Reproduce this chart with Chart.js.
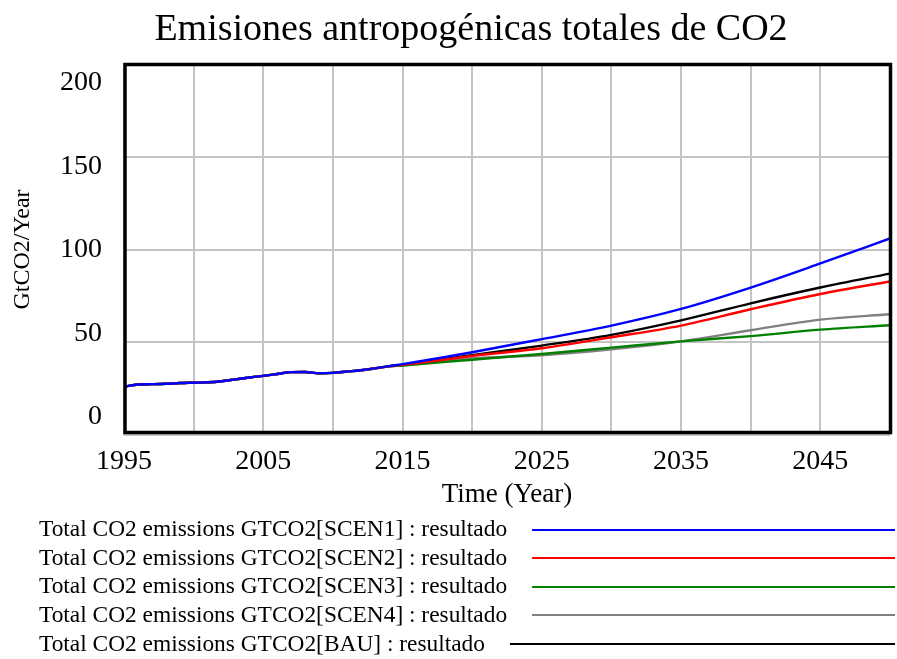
<!DOCTYPE html>
<html>
<head>
<meta charset="utf-8">
<script src="https://cdn.jsdelivr.net/npm/chart.js@4.4.0/dist/chart.umd.min.js"></script>
<style>
  html, body { margin: 0; padding: 0; background: #ffffff; }
  canvas { display: block; }
</style>
</head>
<body>
<canvas id="chart" width="897" height="659"></canvas>
<script>
// Historical total CO2 emissions, common to every scenario (GtCO2/year)
const histYears  = [1995, 1996, 1997, 1998, 1999, 2000, 2001, 2002, 2003, 2004,
                    2005, 2006, 2007, 2008, 2009, 2010, 2011, 2012, 2013];
const histValues = [26.0, 27.2, 27.4, 27.6, 28.0, 28.2, 28.4, 29.0, 30.0, 31.0,
                    31.9, 32.9, 33.9, 34.0, 33.3, 33.5, 34.2, 34.9, 35.9];

// Scenario projections (GtCO2/year)
const projYears = [2014, 2015, 2020, 2025, 2030, 2035, 2040, 2045, 2050];
const scen1 = [37.1, 38.2, 44.6, 51.7, 59.0, 68.0, 79.5, 92.5, 106.0];
const scen2 = [37.0, 37.8, 42.6, 46.8, 52.7, 59.0, 67.8, 76.0, 82.8];
const scen3 = [37.0, 37.5, 40.6, 43.7, 47.1, 50.5, 53.3, 56.8, 59.2];
const scen4 = [37.0, 37.5, 41.3, 43.0, 46.2, 50.5, 56.5, 62.2, 65.1];
const bau   = [37.0, 37.8, 43.0, 48.2, 54.0, 61.8, 71.0, 79.5, 87.0];

const seriesLabels = [
  'Total CO2 emissions GTCO2[SCEN1] : resultado',
  'Total CO2 emissions GTCO2[SCEN2] : resultado',
  'Total CO2 emissions GTCO2[SCEN3] : resultado',
  'Total CO2 emissions GTCO2[SCEN4] : resultado',
  'Total CO2 emissions GTCO2[BAU] : resultado'
];
const seriesColors = ['#0000ff', '#ff0000', '#008000', '#808080', '#000000'];

const xTickLabels = ['1995', '2005', '2015', '2025', '2035', '2045'];
const yTickLabels = ['0', '50', '100', '150', '200'];
const yTickValues = yTickLabels.map(Number);

const chartTitle = 'Emisiones antropogénicas totales de CO2';
const xTitle = 'Time (Year)';
const yTitle = 'GtCO2/Year';

const scenarioValues = [scen1, scen2, scen3, scen4, bau];

const datasets = seriesLabels.map((label, i) => ({
  label: label,
  borderColor: seriesColors[i],
  backgroundColor: seriesColors[i],
  borderWidth: 2.4,
  pointRadius: 0,
  fill: false,
  cubicInterpolationMode: 'monotone',
  data: histYears.map((yr, k) => ({ x: yr, y: histValues[k] }))
    .concat(projYears.map((yr, k) => ({ x: yr, y: scenarioValues[i][k] })))
}));

const FONT = "'Liberation Serif', 'Times New Roman', serif";
Chart.defaults.font.family = FONT;
Chart.defaults.color = '#000000';

// Thick black frame around the plotting area
const framePlugin = {
  id: 'frame',
  afterDatasetsDraw(chart) {
    const { ctx, chartArea: a } = chart;
    ctx.save();
    ctx.strokeStyle = '#000000';
    ctx.lineWidth = 3.5;
    ctx.lineCap = 'square';
    ctx.beginPath();
    ctx.moveTo(a.left + 1, a.top + 0.5);
    ctx.lineTo(a.right + 0.5, a.top + 0.5);
    ctx.lineTo(a.right + 0.5, a.bottom - 2.5);
    ctx.lineTo(a.left + 1, a.bottom - 2.5);
    ctx.closePath();
    ctx.stroke();
    ctx.restore();
  }
};

// Chart title and the line legend below the axis
const textPlugin = {
  id: 'texts',
  afterDraw(chart) {
    const { ctx } = chart;
    ctx.save();
    ctx.fillStyle = '#000000';
    ctx.font = '38px ' + FONT;
    ctx.textAlign = 'center';
    ctx.textBaseline = 'alphabetic';
    ctx.fillText(chartTitle, 471, 40);

    ctx.font = '23.4px ' + FONT;
    ctx.textAlign = 'left';
    chart.data.datasets.forEach((ds, i) => {
      const y = 528.5 + 28.6 * i;
      ctx.fillStyle = '#000000';
      ctx.fillText(ds.label, 39, y + 7.7);
      const w = ctx.measureText(ds.label).width;
      ctx.strokeStyle = ds.borderColor;
      ctx.lineWidth = 2;
      ctx.beginPath();
      ctx.moveTo(39 + w + 25, Math.round(y + 1));
      ctx.lineTo(895, Math.round(y + 1));
      ctx.stroke();
    });
    ctx.restore();
  }
};

new Chart(document.getElementById('chart'), {
  type: 'line',
  data: { datasets: datasets },
  options: {
    responsive: false,
    animation: false,
    devicePixelRatio: 1,
    layout: { padding: { top: 64, right: 7, bottom: 0, left: 0 } },
    plugins: {
      legend: { display: false },
      title: { display: false },
      tooltip: { enabled: false }
    },
    scales: {
      x: {
        type: 'linear',
        position: 'bottom',
        min: 1995,
        max: 2050,
        afterFit: (s) => { s.height = 224; },
        ticks: {
          stepSize: 5,
          autoSkip: false,
          maxRotation: 0,
          padding: 7,
          color: '#000000',
          font: { size: 28, lineHeight: 1.414 },
          callback: (v) => (xTickLabels.includes(String(v)) ? String(v) : '')
        },
        grid: { color: '#c4c4c4', lineWidth: 2, drawTicks: false },
        border: { display: false },
        title: {
          display: true,
          text: xTitle,
          color: '#000000',
          font: { size: 27 },
          padding: { top: 0, bottom: 148 }
        }
      },
      y: {
        type: 'linear',
        position: 'left',
        weight: 0,
        min: 0,
        max: 200,
        afterFit: (s) => { s.width = 0; },
        ticks: { display: false, stepSize: 50 },
        grid: { color: '#c4c4c4', lineWidth: 2, drawTicks: false },
        border: { display: false }
      },
      yl: {
        type: 'linear',
        position: 'left',
        weight: 1,
        min: -10.78,
        max: 211.38,
        afterFit: (s) => { s.width = 124; },
        afterBuildTicks: (s) => { s.ticks = yTickValues.map((v) => ({ value: v })); },
        ticks: {
          padding: 22,
          color: '#000000',
          font: { size: 28 },
          callback: (v, i) => yTickLabels[i]
        },
        grid: { display: false, drawTicks: false },
        border: { display: false },
        title: {
          display: true,
          text: yTitle,
          color: '#000000',
          font: { size: 24 },
          padding: { top: 8, bottom: 0 }
        }
      }
    }
  },
  plugins: [framePlugin, textPlugin]
});
</script>
</body>
</html>
